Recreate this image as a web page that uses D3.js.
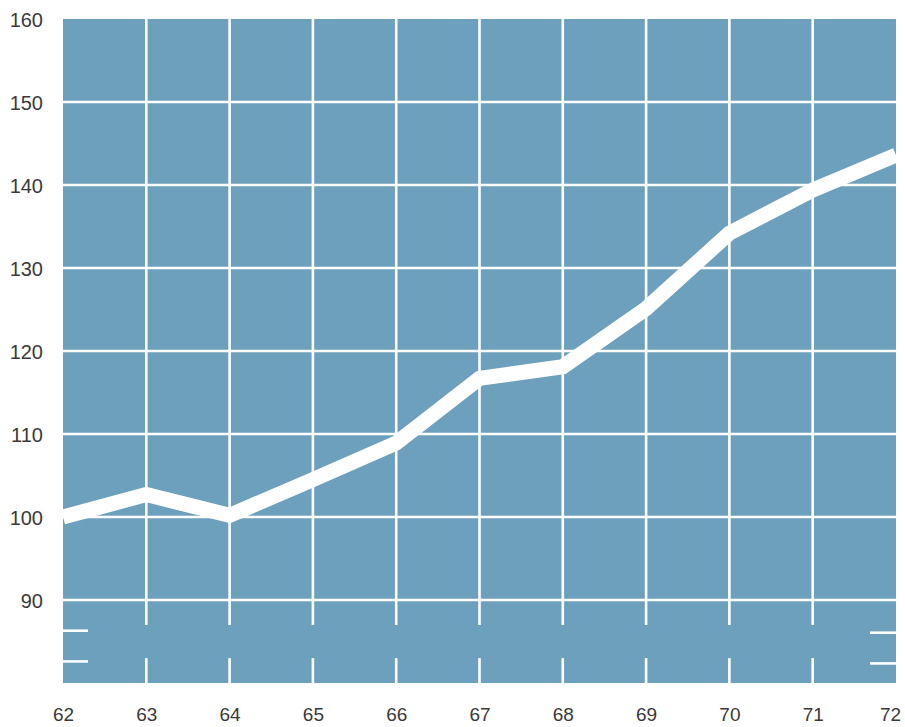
<!DOCTYPE html>
<html>
<head>
<meta charset="utf-8">
<script src="https://cdn.jsdelivr.net/npm/d3@7"></script>
<style>
  html, body { margin: 0; padding: 0; background: #ffffff; overflow: hidden; }
  svg { display: block; }
  text { font-family: "Liberation Sans", Arial, Helvetica, sans-serif; fill: #3a3a3a; }
</style>
</head>
<body>
<svg id="chart" width="905" height="727"></svg>
<script>
// Index values by year
const years = [62, 63, 64, 65, 66, 67, 68, 69, 70, 71, 72];
const values = [100, 102.7, 100.2, 104.5, 108.9, 116.7, 118.1, 125.1, 134.2, 139.4, 143.6];
const yTicks = [90, 100, 110, 120, 130, 140, 150, 160];
const xTickLabels = ["62", "63", "64", "65", "66", "67", "68", "69", "70", "71", "72"];

const svg = d3.select("#chart");
const plot = { left: 63, right: 896, top: 19, bottom: 683 };
const panelColor = "#6ca0bd";

const x = d3.scaleLinear().domain([62, 72]).range([plot.left, plot.right]);
const y = d3.scaleLinear().domain([80, 160]).range([plot.bottom, plot.top]);

// Panel
svg.append("rect")
  .attr("x", plot.left).attr("y", y(160))
  .attr("width", plot.right - plot.left)
  .attr("height", plot.bottom - y(160))
  .attr("fill", panelColor);

const grid = svg.append("g").attr("stroke", "#ffffff").attr("stroke-width", 2.6);

// Horizontal grid lines
grid.selectAll("line.h")
  .data(yTicks.filter(d => d > 80 && d < 160))
  .join("line")
  .attr("class", "h")
  .attr("x1", plot.left).attr("x2", plot.right)
  .attr("y1", d => y(d)).attr("y2", d => y(d));

// Vertical grid lines down to the 90 line, then broken stubs below
const inner = years.filter(d => d > 62 && d < 72);
grid.selectAll("line.v")
  .data(inner)
  .join("line")
  .attr("class", "v")
  .attr("x1", d => x(d)).attr("x2", d => x(d))
  .attr("y1", y(160)).attr("y2", y(87));
grid.selectAll("line.vb")
  .data(inner)
  .join("line")
  .attr("class", "vb")
  .attr("x1", d => x(d)).attr("x2", d => x(d))
  .attr("y1", y(83)).attr("y2", plot.bottom);

// Axis break marks at both edges
const breakVals = [86.3, 82.6];
grid.selectAll("line.bl")
  .data(breakVals)
  .join("line")
  .attr("x1", plot.left).attr("x2", plot.left + 25)
  .attr("y1", d => y(d)).attr("y2", d => y(d));
grid.selectAll("line.br")
  .data(breakVals)
  .join("line")
  .attr("x1", plot.right - 26).attr("x2", plot.right)
  .attr("y1", d => y(d) + 2).attr("y2", d => y(d) + 2);

// Data line
const line = d3.line()
  .x((d, i) => x(years[i]))
  .y(d => y(d))
  .curve(d3.curveLinear);

svg.append("path")
  .datum(values)
  .attr("d", line)
  .attr("fill", "none")
  .attr("stroke", "#ffffff")
  .attr("stroke-width", 15)
  .attr("stroke-linejoin", "miter")
  .attr("stroke-linecap", "butt");

// Y axis labels
const yAxis = d3.axisLeft(y).tickValues(yTicks).tickSize(0).tickPadding(0);
const gy = svg.append("g")
  .attr("transform", `translate(${plot.left - 20},0)`)
  .call(yAxis);
gy.select(".domain").remove();
gy.selectAll("text")
  .attr("font-size", 20)
  .attr("dy", "0.38em")
  .style("fill", "#3a3a3a")
  .attr("font-family", "Liberation Sans, Arial, sans-serif");

// X axis labels
const xAxis = d3.axisBottom(x).tickValues(years).tickFormat((d, i) => xTickLabels[i]).tickSize(0).tickPadding(0);
const gx = svg.append("g")
  .attr("transform", `translate(0,${plot.bottom + 38})`)
  .call(xAxis);
gx.select(".domain").remove();
gx.selectAll("text")
  .attr("font-size", 19)
  .attr("y", 0)
  .attr("dy", 0)
  .style("fill", "#3a3a3a")
  .attr("font-family", "Liberation Sans, Arial, sans-serif")
  .attr("dx", (d, i) => (i === years.length - 1 ? -6 : 0));
</script>
</body>
</html>
